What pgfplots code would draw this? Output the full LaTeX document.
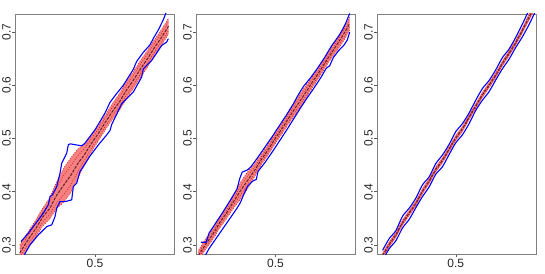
\documentclass[border=0pt]{standalone}
\usepackage{fontspec}
\setmainfont{Liberation Sans}
\usepackage{pgfplots}
\usepackage{pgfplotstable}
\pgfplotsset{compat=1.18}
\definecolor{salmonband}{RGB}{247,128,128}
\definecolor{innerred}{RGB}{205,35,40}
\definecolor{centerc}{RGB}{105,30,45}

% panel 1 lines
\pgfplotstableread{
x     c     ilo   ihi   lo    hi
0.285 0.285 0.277 0.293 0.270 0.300
0.31  0.311 0.303 0.319 0.296 0.326
0.33  0.330 0.321 0.339 0.314 0.346
0.35  0.352 0.343 0.361 0.335 0.369
0.37  0.368 0.357 0.379 0.348 0.388
0.39  0.393 0.379 0.407 0.368 0.418
0.41  0.412 0.394 0.430 0.380 0.444
0.43  0.430 0.412 0.448 0.397 0.463
0.45  0.452 0.437 0.467 0.424 0.480
0.47  0.470 0.459 0.481 0.450 0.490
0.49  0.491 0.482 0.500 0.475 0.507
0.51  0.510 0.502 0.518 0.496 0.524
0.53  0.531 0.523 0.539 0.517 0.545
0.55  0.551 0.543 0.559 0.536 0.566
0.57  0.569 0.560 0.578 0.553 0.585
0.59  0.591 0.582 0.600 0.575 0.607
0.61  0.610 0.601 0.619 0.594 0.626
0.63  0.631 0.622 0.640 0.615 0.647
0.65  0.650 0.641 0.659 0.634 0.666
0.67  0.671 0.663 0.679 0.656 0.686
0.69  0.690 0.682 0.698 0.675 0.705
0.71  0.711 0.703 0.719 0.696 0.726
}\tA

% panel 2 lines
\pgfplotstableread{
x     c     ilo   ihi   lo    hi
0.28  0.280 0.275 0.285 0.270 0.290
0.30  0.301 0.296 0.306 0.291 0.311
0.32  0.319 0.314 0.324 0.309 0.329
0.34  0.341 0.336 0.346 0.331 0.351
0.36  0.360 0.355 0.365 0.349 0.371
0.38  0.381 0.375 0.387 0.369 0.393
0.40  0.402 0.394 0.410 0.386 0.418
0.42  0.421 0.413 0.429 0.405 0.437
0.44  0.440 0.434 0.446 0.428 0.452
0.46  0.461 0.456 0.466 0.451 0.471
0.48  0.480 0.475 0.485 0.470 0.490
0.50  0.501 0.496 0.506 0.491 0.511
0.52  0.520 0.515 0.525 0.510 0.530
0.54  0.541 0.535 0.547 0.530 0.552
0.56  0.561 0.554 0.568 0.548 0.574
0.58  0.580 0.573 0.587 0.567 0.593
0.60  0.601 0.595 0.607 0.590 0.612
0.62  0.620 0.615 0.625 0.610 0.630
0.64  0.641 0.636 0.646 0.631 0.651
0.66  0.661 0.656 0.666 0.651 0.671
0.68  0.681 0.675 0.687 0.669 0.693
0.70  0.702 0.695 0.709 0.689 0.715
0.712 0.716 0.710 0.722 0.704 0.728
}\tB

% panel 3 lines
\pgfplotstableread{
x     c     ilo   ihi   bl    bu
0.28  0.280 0.277 0.283 0.271 0.290
0.30  0.301 0.298 0.304 0.293 0.312
0.32  0.319 0.316 0.322 0.308 0.327
0.34  0.342 0.339 0.345 0.332 0.354
0.36  0.360 0.357 0.363 0.348 0.369
0.38  0.378 0.375 0.381 0.370 0.388
0.40  0.401 0.398 0.404 0.391 0.413
0.42  0.420 0.417 0.423 0.409 0.428
0.44  0.442 0.439 0.445 0.433 0.453
0.46  0.459 0.456 0.462 0.447 0.469
0.48  0.480 0.477 0.483 0.470 0.489
0.50  0.501 0.498 0.504 0.492 0.513
0.52  0.518 0.515 0.521 0.507 0.528
0.54  0.540 0.537 0.543 0.528 0.548
0.56  0.561 0.558 0.564 0.553 0.572
0.58  0.582 0.579 0.585 0.572 0.594
0.60  0.600 0.597 0.603 0.588 0.609
0.62  0.619 0.616 0.622 0.610 0.629
0.64  0.641 0.638 0.644 0.631 0.652
0.66  0.660 0.657 0.663 0.649 0.668
0.68  0.680 0.677 0.683 0.671 0.690
0.70  0.703 0.700 0.706 0.691 0.715
0.72  0.728 0.724 0.732 0.714 0.741
0.74  0.752 0.748 0.756 0.740 0.763
}\tC

\pgfplotsset{
  panel/.style={
    scale only axis, width=159pt, height=240pt,
    anchor=south west,
    ymin=0.283, ymax=0.734,
    ytick={0.3,0.4,0.5,0.6,0.7},
    xtick={0.5},
    tick align=outside,
    major tick length=3pt,
    axis line style={gray, line width=0.6pt},
    tick style={gray!70!black, line width=0.5pt},
    xtick pos=bottom, ytick pos=left,
    /pgf/number format/assume math mode=true,
    ticklabel style={font=\fontsize{12}{14}\selectfont, text=black!85},
    yticklabel style={rotate=90, anchor=south, inner sep=1pt},
    xticklabel style={inner sep=1.5pt},
    clip=true,
  },
  bandfill/.style={fill=salmonband, draw=none},
  edgel/.style={innerred, line width=0.5pt, dash pattern=on 1pt off 1.5pt},
  innerl/.style={innerred, line width=0.6pt, dash pattern=on 1pt off 1.5pt},
  centl/.style={centerc, line width=1pt, dash pattern=on 3pt off 1.2pt},
  bluel/.style={blue, line width=1.1pt, line join=round},
}

\begin{document}
\begin{tikzpicture}

% ---------- panel 1 ----------
\begin{axis}[panel, at={(15pt,19pt)}, xmin=0.2714, xmax=0.7257]
\addplot[bandfill] coordinates {
(0.285,0.300)(0.31,0.326)(0.33,0.346)(0.35,0.369)(0.37,0.388)(0.39,0.418)(0.41,0.444)
(0.43,0.463)(0.45,0.480)(0.47,0.490)(0.49,0.507)(0.51,0.524)(0.53,0.545)(0.55,0.566)
(0.57,0.585)(0.59,0.607)(0.61,0.626)(0.63,0.647)(0.65,0.666)(0.67,0.686)(0.69,0.705)(0.71,0.726)
(0.71,0.696)(0.69,0.675)(0.67,0.656)(0.65,0.634)(0.63,0.615)(0.61,0.594)(0.59,0.575)
(0.57,0.553)(0.55,0.536)(0.53,0.517)(0.51,0.496)(0.49,0.475)(0.47,0.450)(0.45,0.424)
(0.43,0.397)(0.41,0.380)(0.39,0.368)(0.37,0.348)(0.35,0.335)(0.33,0.314)(0.31,0.296)(0.285,0.270)} --cycle;
\addplot[edgel] table[x=x,y=hi]{\tA};
\addplot[edgel] table[x=x,y=lo]{\tA};
\addplot[innerl] table[x=x,y=ihi]{\tA};
\addplot[innerl] table[x=x,y=ilo]{\tA};
\addplot[centl] table[x=x,y=c]{\tA};
\addplot[bluel] coordinates {
(0.2886,0.3063) (0.3094,0.3221) (0.338,0.3471) (0.3523,0.3597) (0.3666,0.3753)
(0.3714,0.3909) (0.378,0.3941) (0.3906,0.4097) (0.40,0.4349) (0.4049,0.4537)
(0.4191,0.4725) (0.4237,0.4882) (0.4286,0.4900) (0.462,0.4863) (0.4714,0.4913)
(0.50,0.5164) (0.5143,0.5320) (0.5286,0.5480) (0.5429,0.5680) (0.5600,0.5830)
(0.5809,0.6000) (0.6094,0.6300) (0.6191,0.6450) (0.638,0.6620) (0.6571,0.6760)
(0.6666,0.6880) (0.6809,0.7040) (0.6951,0.7230) (0.705,0.74)};
\addplot[bluel] coordinates {
(0.298,0.2813) (0.3143,0.3001) (0.338,0.3189) (0.362,0.3345) (0.3763,0.3377)
(0.3857,0.3533) (0.3906,0.3691) (0.40,0.3815) (0.4143,0.3815) (0.4334,0.3847)
(0.438,0.4097) (0.4477,0.4161) (0.4571,0.4379) (0.4666,0.4473) (0.4857,0.4671)
(0.5094,0.4879) (0.5334,0.5068) (0.5429,0.5152) (0.5477,0.5264) (0.5763,0.5653)
(0.6094,0.5873) (0.6334,0.6155) (0.638,0.6311) (0.662,0.6467) (0.6809,0.6655)
(0.6906,0.6749) (0.7049,0.6813) (0.7094,0.6875)};
\end{axis}

% ---------- panel 2 ----------
\begin{axis}[panel, at={(196pt,19pt)}, xmin=0.2729, xmax=0.7271]
\addplot[bandfill] coordinates {
(0.28,0.290)(0.30,0.311)(0.32,0.329)(0.34,0.351)(0.36,0.371)(0.38,0.393)(0.40,0.418)
(0.42,0.437)(0.44,0.452)(0.46,0.471)(0.48,0.490)(0.50,0.511)(0.52,0.530)(0.54,0.552)
(0.56,0.574)(0.58,0.593)(0.60,0.612)(0.62,0.630)(0.64,0.651)(0.66,0.671)(0.68,0.693)
(0.70,0.715)(0.712,0.728)
(0.712,0.704)(0.70,0.689)(0.68,0.669)(0.66,0.651)(0.64,0.631)(0.62,0.610)(0.60,0.590)
(0.58,0.567)(0.56,0.548)(0.54,0.530)(0.52,0.510)(0.50,0.491)(0.48,0.470)(0.46,0.451)
(0.44,0.428)(0.42,0.405)(0.40,0.386)(0.38,0.369)(0.36,0.349)(0.34,0.331)(0.32,0.309)
(0.30,0.291)(0.28,0.270)} --cycle;
\addplot[edgel] table[x=x,y=hi]{\tB};
\addplot[edgel] table[x=x,y=lo]{\tB};
\addplot[innerl] table[x=x,y=ihi]{\tB};
\addplot[innerl] table[x=x,y=ilo]{\tB};
\addplot[centl] table[x=x,y=c]{\tB};
\addplot[bluel] coordinates {
(0.287,0.305) (0.302,0.305) (0.31,0.322) (0.33,0.342) (0.35,0.362) (0.37,0.383)
(0.39,0.405) (0.398,0.425) (0.405,0.437) (0.42,0.441) (0.43,0.447) (0.45,0.465)
(0.47,0.484) (0.49,0.503) (0.51,0.523) (0.53,0.543) (0.55,0.564) (0.565,0.582)
(0.58,0.598) (0.60,0.614) (0.62,0.632) (0.64,0.652) (0.66,0.674) (0.68,0.692)
(0.69,0.703) (0.70,0.716) (0.712,0.735)};
\addplot[bluel] coordinates {
(0.300,0.281) (0.31,0.293) (0.33,0.312) (0.35,0.331) (0.37,0.350) (0.39,0.369)
(0.40,0.380) (0.41,0.396) (0.42,0.410) (0.435,0.420) (0.445,0.423) (0.45,0.438)
(0.47,0.455) (0.49,0.474) (0.51,0.494) (0.53,0.514) (0.55,0.535) (0.57,0.556)
(0.59,0.576) (0.61,0.595) (0.63,0.615) (0.645,0.632) (0.655,0.637) (0.665,0.652)
(0.68,0.665) (0.695,0.675) (0.705,0.685) (0.712,0.700)};
\end{axis}

% ---------- panel 3 ----------
\begin{axis}[panel, at={(377pt,19pt)}, xmin=0.2633, xmax=0.741]
\addplot[bandfill] coordinates {
(0.28,0.286)(0.30,0.307)(0.32,0.325)(0.34,0.348)(0.36,0.366)(0.38,0.384)(0.40,0.407)
(0.42,0.426)(0.44,0.448)(0.46,0.465)(0.48,0.486)(0.50,0.507)(0.52,0.524)(0.54,0.546)
(0.56,0.567)(0.58,0.588)(0.60,0.606)(0.62,0.625)(0.64,0.647)(0.66,0.666)(0.68,0.686)
(0.70,0.709)(0.72,0.735)(0.74,0.759)
(0.74,0.745)(0.72,0.721)(0.70,0.697)(0.68,0.674)(0.66,0.654)(0.64,0.635)(0.62,0.613)
(0.60,0.594)(0.58,0.576)(0.56,0.555)(0.54,0.534)(0.52,0.512)(0.50,0.495)(0.48,0.474)
(0.46,0.453)(0.44,0.436)(0.42,0.414)(0.40,0.395)(0.38,0.372)(0.36,0.354)(0.34,0.336)
(0.32,0.313)(0.30,0.295)(0.28,0.274)} --cycle;
\addplot[innerl] table[x=x,y=ihi]{\tC};
\addplot[innerl] table[x=x,y=ilo]{\tC};
\addplot[centl] table[x=x,y=c]{\tC};
\addplot[bluel, smooth, tension=0.4] table[x=x,y=bu]{\tC};
\addplot[bluel, smooth, tension=0.4] table[x=x,y=bl]{\tC};
\end{axis}

\pgfresetboundingbox
\path[use as bounding box] (0,0) rectangle (545pt,273pt);
\end{tikzpicture}
\end{document}
